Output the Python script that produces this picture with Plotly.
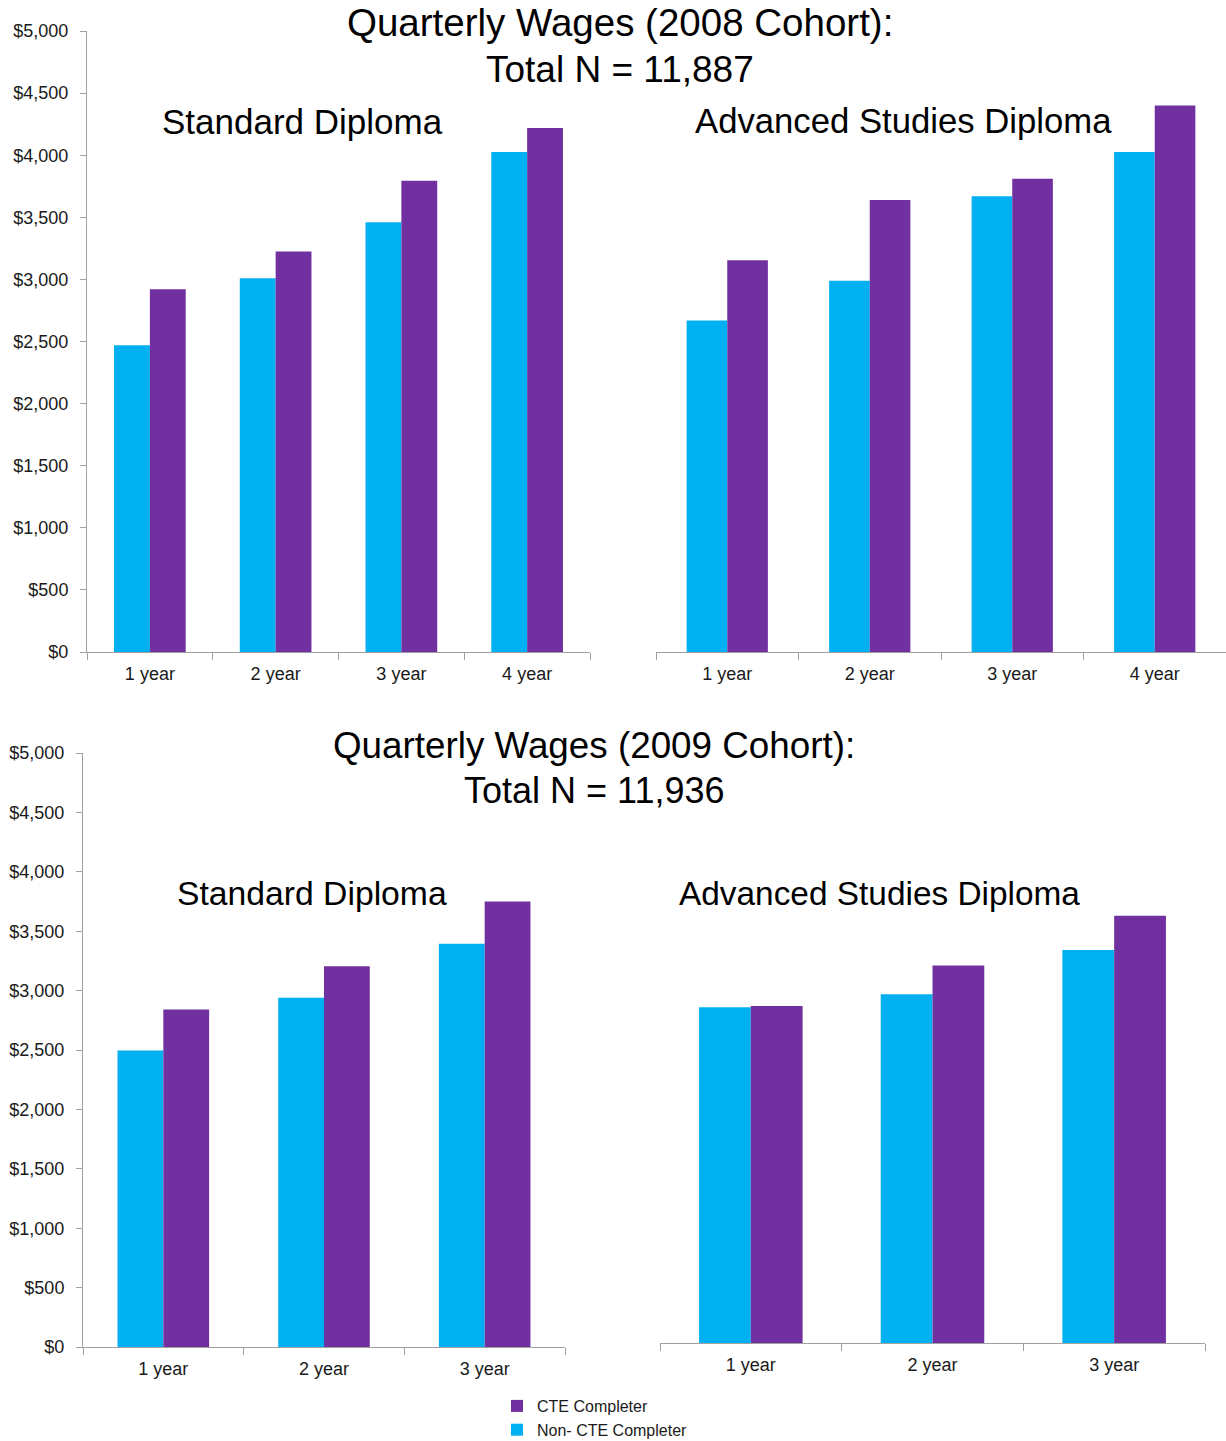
import plotly.graph_objects as go

# ---------------- data ----------------
categories_2008 = ["1 year", "2 year", "3 year", "4 year"]
categories_2009 = ["1 year", "2 year", "3 year"]

std_2008_non_cte = [2470, 3010, 3460, 4025]
std_2008_cte = [2920, 3225, 3795, 4220]
adv_2008_non_cte = [2670, 2990, 3670, 4025]
adv_2008_cte = [3155, 3640, 3810, 4400]

std_2009_non_cte = [2495, 2940, 3395]
std_2009_cte = [2840, 3205, 3750]
adv_2009_non_cte = [2845, 2955, 3330]
adv_2009_cte = [2855, 3200, 3620]

y_tick_vals = [0, 500, 1000, 1500, 2000, 2500, 3000, 3500, 4000, 4500, 5000]
y_tick_text = ["$0", "$500", "$1,000", "$1,500", "$2,000", "$2,500",
               "$3,000", "$3,500", "$4,000", "$4,500", "$5,000"]

series_names = ["Non- CTE Completer", "CTE Completer"]

# ---------------- styles / layout ----------------
W, H = 1226, 1441
CYAN = "#00B0F0"
PURPLE = "#7030A0"
AXIS_GRAY = "#A0A0A0"
TEXT = "#1a1a1a"
FONT = "Liberation Sans, Arial, sans-serif"


def px_x(p):
    return p / W


def px_y(p):
    return 1 - p / H


# panel pixel boxes: (left, right, top, bottom)
panels = {
    "1": (87, 590, 31, 652),
    "2": (656, 1226, 31, 652),
    "3": (83, 565, 753, 1347),
    "4": (660, 1205, 753, 1343),
}

fig = go.Figure()

panel_data = [
    ("1", categories_2008, std_2008_non_cte, std_2008_cte, True),
    ("2", categories_2008, adv_2008_non_cte, adv_2008_cte, False),
    ("3", categories_2009, std_2009_non_cte, std_2009_cte, False),
    ("4", categories_2009, adv_2009_non_cte, adv_2009_cte, False),
]

for key, cats, non_cte, cte, show_leg in panel_data:
    xa = "x" if key == "1" else "x" + key
    ya = "y" if key == "1" else "y" + key
    fig.add_trace(go.Bar(x=cats, y=non_cte, name=series_names[0],
                         marker=dict(color=CYAN, line=dict(width=0)),
                         xaxis=xa, yaxis=ya, showlegend=show_leg))
    fig.add_trace(go.Bar(x=cats, y=cte, name=series_names[1],
                         marker=dict(color=PURPLE, line=dict(width=0)),
                         xaxis=xa, yaxis=ya, showlegend=show_leg))

layout_axes = {}
for key, cats, _, _, _ in panel_data:
    l, r, t, b = panels[key]
    xname = "xaxis" if key == "1" else "xaxis" + key
    yname = "yaxis" if key == "1" else "yaxis" + key
    anchor_y = "y" if key == "1" else "y" + key
    anchor_x = "x" if key == "1" else "x" + key
    layout_axes[xname] = dict(
        domain=[px_x(l), px_x(r)], anchor=anchor_y, type="category",
        range=[-0.5, len(cats) - 0.5], tickson="boundaries",
        ticks="outside", ticklen=7, tickcolor=AXIS_GRAY, tickwidth=1,
        showline=True, linecolor=AXIS_GRAY, linewidth=1,
        showgrid=False, zeroline=False, automargin=False,
        ticklabelstandoff=5,
        tickfont=dict(family=FONT, size=18, color=TEXT),
        fixedrange=True,
    )
    left_panel = key in ("1", "3")
    layout_axes[yname] = dict(
        domain=[px_y(b), px_y(t)], anchor=anchor_x,
        range=[0, 5000], tickvals=y_tick_vals, ticktext=y_tick_text,
        ticks="outside" if left_panel else "", ticklen=6,
        tickcolor=AXIS_GRAY, showline=left_panel, linecolor=AXIS_GRAY,
        linewidth=1, showticklabels=left_panel, showgrid=False,
        zeroline=False, ticklabelstandoff=8, automargin=False,
        tickfont=dict(family=FONT, size=18, color=TEXT),
        fixedrange=True,
    )

annotations = [
    dict(text="Quarterly Wages (2008 Cohort):", x=px_x(620), y=px_y(22), size=38.5),
    dict(text="Total N = 11,887", x=px_x(620), y=px_y(69), size=37),
    dict(text="Standard Diploma", x=px_x(302), y=px_y(121), size=35),
    dict(text="Advanced Studies Diploma", x=px_x(903), y=px_y(121), size=34.7),
    dict(text="Quarterly Wages (2009 Cohort):", x=px_x(594), y=px_y(746), size=36.8),
    dict(text="Total N = 11,936", x=px_x(594), y=px_y(790), size=36),
    dict(text="Standard Diploma", x=px_x(312), y=px_y(893), size=33.7),
    dict(text="Advanced Studies Diploma", x=px_x(879), y=px_y(893), size=33.4),
]

fig.update_layout(
    template="none",
    width=W, height=H, autosize=False,
    margin=dict(l=0, r=0, t=0, b=0, pad=0, autoexpand=False),
    paper_bgcolor="white", plot_bgcolor="white",
    barmode="group", bargap=0.43, bargroupgap=0,
    font=dict(family=FONT, color=TEXT),
    legend=dict(orientation="v", x=px_x(497), y=px_y(1389),
                xanchor="left", yanchor="top", traceorder="reversed",
                font=dict(family=FONT, size=16, color=TEXT),
                bgcolor="rgba(0,0,0,0)", itemclick=False, tracegroupgap=0),
    annotations=[dict(text=a["text"], x=a["x"], y=a["y"], xref="paper",
                      yref="paper", xanchor="center", yanchor="middle",
                      showarrow=False,
                      font=dict(family=FONT, size=a["size"], color="#000"))
                 for a in annotations],
    **layout_axes,
)

fig.write_html("out.html")
